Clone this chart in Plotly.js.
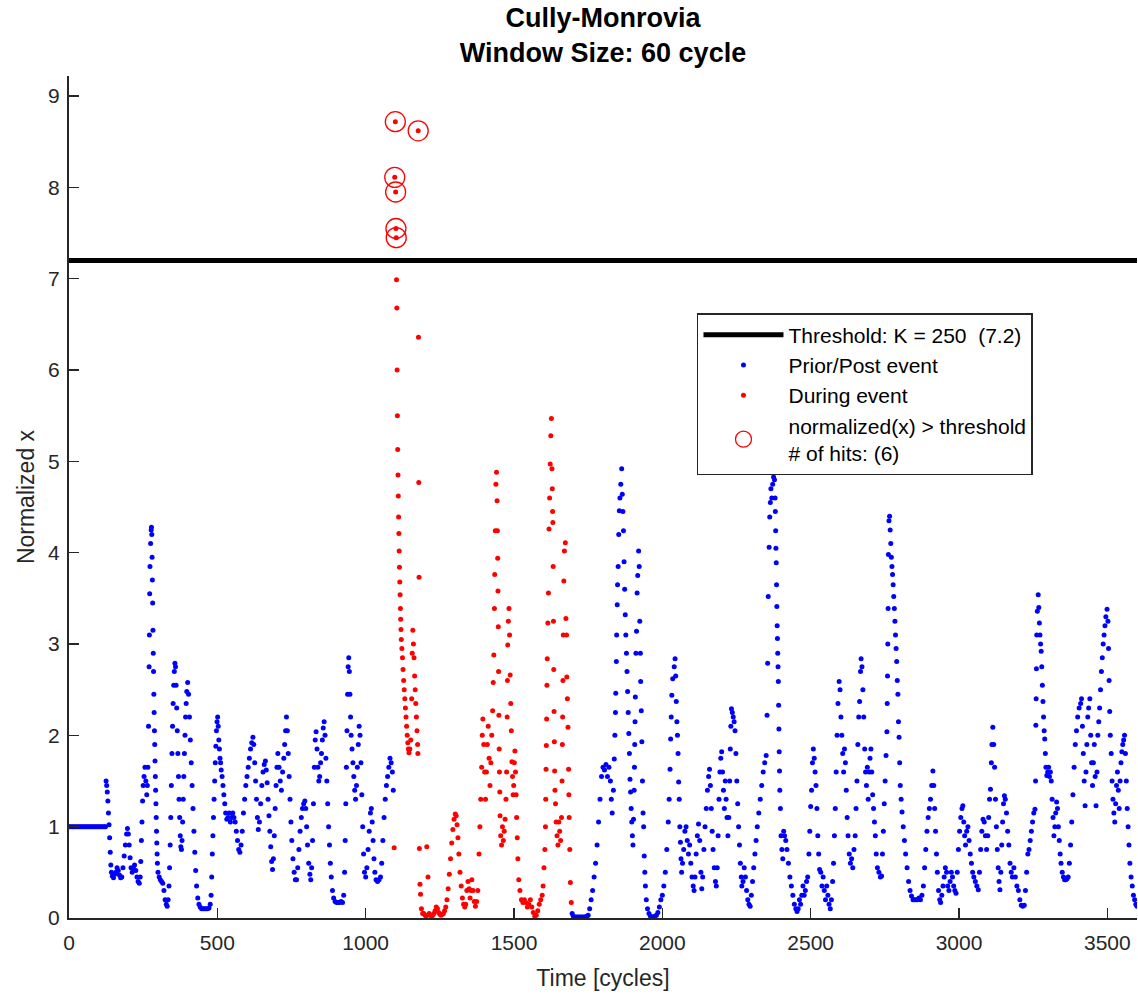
<!DOCTYPE html>
<html>
<head>
<meta charset="utf-8">
<script src="https://cdn.plot.ly/plotly-3.0.1.min.js"></script>
<style>html,body{margin:0;padding:0;background:#fff;}#chart{width:1138px;height:997px;}</style>
</head>
<body>
<div id="chart"></div>
<script>
// ---- Data (time in cycles, normalized x) ----
const titleLines = ["Cully-Monrovia", "Window Size: 60 cycle"];
const thresholdK = 250;
const thresholdValue = 7.2;
const xTickVals = [0, 500, 1000, 1500, 2000, 2500, 3000, 3500];
const yTickVals = [0, 1, 2, 3, 4, 5, 6, 7, 8, 9];

// Prior to event (blue)
const priorPts = [[0,1],[5,1],[10,1],[15,1],[20,1],[25,1],[30,1],[35,1],[40,1],[45,1],[50,1],[55,1],[60,1],[65,1],[70,1],[75,1],[80,1],[85,1],[90,1],[95,1],[100,1],[105,1],[110,1],[115,1],[120,1],[123,1],
[125,1.50],[127,1.45],[129,1.38],[131,1.28],[133,1.15],[135,1.02],[137,0.88],[139,0.72],[141,0.58],[143,0.50],[146,0.46],[150,0.44],[154,0.48],[158,0.50],[162,0.55],[166,0.52],[170,0.47],[174,0.44],[178,0.45],[182,0.55],[186,0.68],[190,0.80],[194,0.92],[197,0.98],[200,0.92],[203,0.80],[206,0.66],[209,0.55],[213,0.50],[217,0.55],[221,0.58],[225,0.52],[229,0.45],[233,0.40],[237,0.38],[240,0.45],[242,0.62],[244,0.85],[246,1.05],[248,1.28],[250,1.45],[253,1.55],[256,1.65],[259,1.50],[262,1.35],[264,1.45],[266,1.65],[268,2.10],[270,2.75],[271,3.10],[272,3.55],[273,3.85],[275,4.10],[277,4.25],[278,4.28],[279,4.20],[280,3.95],[281,3.70],[282,3.45],[283,3.15],[284,2.90],[285,2.70],[286,2.45],[287,2.25],[288,2.05],[289,1.90],[290,1.72],[291,1.55],[292,1.40],[293,1.25],[294,1.10],[295,0.95],[296,0.82],[297,0.70],[298,0.60],[300,0.50],[304,0.45],[308,0.42],[312,0.40],[316,0.38],[320,0.30],[324,0.20],[328,0.15],[331,0.13],[334,0.20],[337,0.35],[339,0.55],[341,0.80],[343,1.10],[345,1.45],[347,1.80],[349,2.10],[351,2.35],[353,2.55],[355,2.70],[357,2.79],[359,2.75],[361,2.55],[363,2.30],[365,2.05],[367,1.80],[369,1.55],[371,1.30],[373,1.10],[375,0.90],[377,0.78],[379,0.75],[381,0.85],[383,1.05],[385,1.30],[387,1.55],[389,1.80],[391,2.00],[393,2.20],[395,2.35],[397,2.48],[400,2.58],[403,2.45],[406,2.20],[409,1.95],[412,1.70],[415,1.45],[418,1.20],[421,0.95],[424,0.72],[427,0.52],[430,0.35],[434,0.22],[438,0.15],[442,0.12],[447,0.10],[452,0.10],[457,0.10],[462,0.10],[467,0.10],[472,0.11],[476,0.15],[479,0.25],[481,0.45],[483,0.70],[485,0.90],[487,1.10],[489,1.30],[491,1.50],[493,1.70],[495,1.88],[497,2.05],[499,2.15],[501,2.20],[503,2.10],[505,1.95],[507,1.85],[509,1.75],[511,1.70],[513,1.62],[516,1.55],[519,1.45],[522,1.35],[525,1.25],[528,1.15],[532,1.08],[536,1.10],[540,1.15],[544,1.05],[548,1.10],[552,1.15],[556,1.10],[560,1.05],[564,0.95],[568,0.85],[572,0.75],[576,0.72],[580,0.80],[584,0.95],[588,1.15],[592,1.30],[596,1.45],[600,1.55],[604,1.65],[608,1.75],[612,1.85],[616,1.92],[620,1.98],[623,1.90],[626,1.70],[629,1.50],[632,1.30],[635,1.10],[638,0.97],[642,1.05],[646,1.25],[650,1.45],[654,1.60],[658,1.68],[662,1.72],[665,1.62],[668,1.48],[671,1.30],[674,1.12],[677,0.95],[680,0.78],[683,0.62],[686,0.53],[689,0.65],[692,0.90],[695,1.20],[698,1.45],[701,1.65],[704,1.80],[708,1.65],[712,1.50],[716,1.40],[720,1.60],[724,1.75],[727,1.90],[730,2.05],[733,2.20],[736,2.05],[739,1.80],[742,1.55],[745,1.30],[748,1.05],[751,0.85],[755,0.65],[759,0.50],[763,0.42],[767,0.42],[771,0.55],[775,0.75],[779,0.95],[783,1.10],[787,1.20],[791,1.25],[795,1.28],[798,1.20],[801,1.00],[804,0.80],[808,0.60],[812,0.48],[815,0.42],[818,0.55],[821,0.85],[824,1.25],[827,1.65],[830,1.95],[833,2.04],[836,1.85],[839,1.65],[842,1.50],[845,1.55],[848,1.70],[851,1.80],[854,1.95],[857,2.08],[860,2.15],[863,2.00],[866,1.75],[869,1.50],[872,1.25],[875,1.00],[878,0.80],[881,0.60],[884,0.45],[888,0.30],[892,0.22],[897,0.18],[902,0.17],[907,0.17],[912,0.17],[917,0.18],[922,0.17],[926,0.25],[929,0.50],[931,0.85],[933,1.25],[935,1.65],[937,2.05],[939,2.45],[941,2.75],[943,2.85],[945,2.70],[947,2.45],[949,2.20],[951,2.00],[954,1.85],[957,1.70],[960,1.55],[963,1.40],[966,1.30],[969,1.45],[972,1.65],[975,1.90],[978,2.10],[981,2.00],[984,1.70],[987,1.35],[990,1.00],[993,0.70],[996,0.50],[1000,0.45],[1004,0.55],[1008,0.75],[1012,0.95],[1016,1.15],[1019,1.20],[1022,1.05],[1025,0.85],[1028,0.65],[1031,0.50],[1035,0.42],[1040,0.40],[1045,0.42],[1050,0.45],[1054,0.60],[1058,0.85],[1062,1.10],[1066,1.30],[1070,1.45],[1074,1.55],[1078,1.65],[1082,1.75],[1086,1.70],[1090,1.60],[1093,1.40]];

// During event (red)
const eventPts = [[1096,0.77],[1098,8.11],[1100,8.72],[1101,7.95],[1102,7.55],[1103,7.45],[1104,6.99],[1105,6.68],[1106,6.00],[1107,5.50],[1108,5.13],[1109,4.85],[1110,4.62],[1111,4.39],[1112,4.21],[1113,4.02],[1114,3.84],[1115,3.68],[1116,3.54],[1117,3.39],[1118,3.27],[1119,3.16],[1120,3.05],[1122,2.95],[1124,2.85],[1126,2.72],[1128,2.60],[1130,2.50],[1132,2.40],[1134,2.30],[1136,2.20],[1138,2.10],[1140,2.00],[1142,1.92],[1144,1.85],[1146,1.81],[1149,1.85],[1152,1.95],[1155,2.40],[1157,2.90],[1159,3.15],[1161,3.00],[1163,2.85],[1165,2.65],[1167,2.50],[1169,2.35],[1171,2.20],[1173,2.05],[1175,1.90],[1176,1.80],[1177,8.62],[1178,6.36],[1179,4.77],[1180,3.73],[1181,0.76],[1183,0.37],[1185,0.26],[1188,0.10],[1192,0.05],[1196,0.05],[1200,0.03],[1204,0.02],[1206,0.78],[1210,0.45],[1214,0.05],[1218,0.03],[1222,0.02],[1226,0.03],[1230,0.05],[1234,0.08],[1238,0.12],[1242,0.10],[1246,0.06],[1250,0.04],[1254,0.03],[1258,0.04],[1262,0.05],[1266,0.08],[1270,0.12],[1274,0.20],[1278,0.32],[1282,0.48],[1286,0.65],[1290,0.82],[1294,0.97],[1298,1.08],[1302,1.14],[1305,1.12],[1308,1.02],[1311,0.88],[1314,0.70],[1318,0.50],[1322,0.35],[1326,0.22],[1330,0.15],[1334,0.12],[1337,0.15],[1341,0.30],[1345,0.40],[1349,0.32],[1352,0.22],[1355,0.30],[1358,0.42],[1362,0.30],[1366,0.18],[1370,0.13],[1374,0.18],[1378,0.30],[1382,0.70],[1385,1.00],[1388,1.30],[1391,1.65],[1393,2.00],[1395,2.18],[1398,1.90],[1401,1.60],[1404,1.30],[1407,1.60],[1410,1.90],[1413,2.10],[1416,1.75],[1419,1.45],[1422,1.70],[1425,2.00],[1428,2.27],[1430,2.58],[1432,2.88],[1434,3.39],[1435,3.76],[1437,4.24],[1439,4.75],[1441,4.88],[1443,4.57],[1444,4.24],[1445,3.94],[1446,3.58],[1447,3.19],[1448,2.70],[1449,2.22],[1450,1.85],[1451,1.60],[1452,1.38],[1453,1.12],[1455,0.90],[1458,0.80],[1461,1.00],[1464,0.85],[1467,0.95],[1470,1.08],[1473,1.30],[1475,1.60],[1477,2.20],[1478,2.60],[1479,2.99],[1481,3.25],[1483,3.39],[1485,3.10],[1487,2.66],[1489,2.35],[1491,2.05],[1493,1.71],[1495,1.55],[1497,1.35],[1499,1.45],[1501,1.70],[1503,1.83],[1505,1.60],[1507,1.35],[1509,1.10],[1511,0.88],[1513,0.65],[1516,0.42],[1520,0.30],[1525,0.20],[1530,0.17],[1535,0.20],[1540,0.17],[1545,0.12],[1550,0.15],[1555,0.20],[1560,0.12],[1565,0.06],[1570,0.02],[1575,0.03],[1580,0.08],[1585,0.15],[1590,0.20],[1595,0.25],[1598,0.35],[1601,0.55],[1604,0.75],[1606,1.00],[1607,1.30],[1608,1.63],[1609,1.89],[1610,2.18],[1611,2.55],[1612,2.84],[1614,3.23],[1616,3.56],[1618,4.26],[1620,4.60],[1622,4.97],[1624,5.28],[1626,5.47],[1628,4.92],[1629,4.70],[1630,4.45],[1631,4.33],[1632,3.85],[1633,3.25],[1634,2.72],[1635,2.26],[1636,1.93],[1637,1.61],[1638,1.40],[1640,1.25],[1642,1.05],[1645,0.90],[1648,0.80],[1651,1.05],[1654,0.95],[1657,0.85],[1660,1.10],[1662,1.50],[1663,1.90],[1664,2.20],[1665,2.60],[1666,3.10],[1668,3.69],[1670,4.02],[1673,4.11],[1675,3.28],[1677,3.10],[1678,2.64],[1680,2.40],[1682,2.09],[1684,1.63],[1685,1.35],[1686,1.10],[1688,0.75],[1690,0.39],[1693,0.17]];

// Post event (blue)
const postPts = [[1696,0.05],[1700,0.02],[1705,0.01],[1710,0.01],[1715,0.01],[1720,0.01],[1725,0.01],[1730,0.01],[1735,0.01],[1740,0.01],[1745,0.02],[1750,0.03],[1755,0.10],[1760,0.20],[1765,0.30],[1770,0.45],[1775,0.60],[1780,0.80],[1785,1.05],[1790,1.30],[1795,1.55],[1800,1.65],[1805,1.62],[1810,1.68],[1815,1.55],[1820,1.65],[1825,1.50],[1828,1.30],[1831,1.15],[1835,1.40],[1838,1.74],[1840,2.00],[1842,2.25],[1843,2.46],[1845,2.81],[1846,3.10],[1848,3.43],[1849,3.65],[1851,3.85],[1853,4.20],[1855,4.46],[1857,4.60],[1860,4.75],[1863,4.92],[1865,4.64],[1867,4.45],[1869,4.24],[1871,3.90],[1873,3.60],[1875,3.32],[1877,3.10],[1879,2.90],[1881,2.70],[1883,2.48],[1885,2.25],[1887,2.02],[1889,1.80],[1891,1.52],[1893,1.38],[1895,1.20],[1897,1.05],[1899,0.90],[1901,0.80],[1903,1.08],[1905,1.40],[1906,1.65],[1907,1.90],[1908,2.15],[1909,2.42],[1911,2.90],[1913,3.14],[1915,3.56],[1917,3.75],[1920,4.02],[1922,3.85],[1924,3.25],[1926,2.90],[1927,2.59],[1929,2.27],[1931,1.93],[1933,1.50],[1935,1.15],[1937,1.00],[1939,0.68],[1941,0.50],[1943,0.35],[1946,0.20],[1950,0.10],[1955,0.05],[1960,0.02],[1965,0.01],[1970,0.01],[1975,0.02],[1980,0.03],[1985,0.06],[1990,0.12],[1995,0.20],[2000,0.25],[2005,0.35],[2010,0.50],[2015,0.75],[2020,1.05],[2023,1.30],[2026,1.63],[2028,1.96],[2030,2.20],[2032,2.44],[2035,2.62],[2040,2.75],[2043,2.84],[2045,2.65],[2047,2.37],[2049,2.15],[2051,2.00],[2053,1.80],[2055,1.49],[2057,1.30],[2059,1.00],[2061,0.83],[2063,0.65],[2065,0.50],[2068,0.60],[2072,0.75],[2076,0.95],[2080,1.00],[2084,0.85],[2088,0.70],[2092,0.80],[2096,0.60],[2100,0.45],[2104,0.35],[2107,0.30],[2110,0.45],[2114,0.70],[2118,0.90],[2122,1.03],[2126,0.85],[2130,0.50],[2133,0.32],[2136,0.45],[2140,0.75],[2144,1.00],[2148,1.20],[2152,1.40],[2156,1.55],[2159,1.63],[2162,1.45],[2165,1.20],[2168,0.95],[2171,0.75],[2175,0.55],[2179,0.40],[2182,0.35],[2185,0.55],[2188,0.90],[2191,1.30],[2194,1.60],[2197,1.75],[2200,1.82],[2203,1.60],[2206,1.40],[2209,1.20],[2212,1.50],[2215,1.30],[2218,1.10],[2221,0.90],[2224,1.10],[2227,1.50],[2229,1.85],[2231,2.10],[2233,2.29],[2236,2.25],[2239,2.20],[2242,2.15],[2245,2.05],[2248,1.80],[2251,1.50],[2254,1.25],[2257,1.00],[2260,0.80],[2263,0.60],[2266,0.45],[2268,0.35],[2272,0.40],[2276,0.55],[2280,0.45],[2284,0.30],[2288,0.20],[2292,0.15],[2296,0.13],[2300,0.25],[2304,0.40],[2308,0.55],[2312,0.70],[2316,0.85],[2320,1.00],[2325,1.15],[2330,1.30],[2335,1.45],[2340,1.60],[2345,1.70],[2350,1.78],[2353,2.22],[2355,2.79],[2357,3.52],[2360,4.06],[2362,4.39],[2364,4.55],[2366,4.70],[2369,4.60],[2372,4.75],[2375,4.83],[2378,4.80],[2380,4.60],[2381,4.45],[2382,4.24],[2383,4.05],[2384,3.89],[2385,3.65],[2386,3.41],[2387,3.20],[2388,3.06],[2389,2.90],[2390,2.75],[2391,2.59],[2392,2.33],[2393,2.07],[2394,1.82],[2395,1.61],[2396,1.40],[2398,1.20],[2400,0.90],[2403,0.75],[2406,0.65],[2409,0.95],[2412,0.90],[2416,0.85],[2420,0.75],[2425,0.60],[2430,0.45],[2435,0.35],[2440,0.25],[2445,0.15],[2450,0.10],[2454,0.07],[2458,0.10],[2462,0.20],[2466,0.15],[2470,0.25],[2474,0.35],[2478,0.25],[2482,0.30],[2486,0.40],[2490,0.45],[2494,0.70],[2497,0.95],[2500,1.22],[2503,1.40],[2506,1.70],[2509,1.85],[2512,1.75],[2515,1.60],[2518,1.45],[2521,1.20],[2524,0.90],[2527,0.70],[2530,0.53],[2534,0.50],[2538,0.35],[2542,0.45],[2546,0.30],[2550,0.20],[2554,0.35],[2558,0.25],[2562,0.15],[2566,0.10],[2570,0.20],[2574,0.40],[2577,0.60],[2580,0.90],[2583,1.20],[2586,1.60],[2589,2.00],[2592,2.35],[2596,2.59],[2599,2.50],[2602,2.20],[2605,2.00],[2608,1.80],[2611,1.60],[2614,1.85],[2617,1.70],[2620,1.40],[2623,1.10],[2626,0.90],[2630,0.70],[2634,0.60],[2638,0.65],[2642,0.55],[2646,0.75],[2650,0.90],[2653,1.20],[2656,1.50],[2659,1.90],[2662,2.20],[2665,2.37],[2668,2.70],[2670,2.84],[2673,2.75],[2676,2.50],[2679,2.20],[2682,1.85],[2685,1.60],[2688,1.45],[2691,1.65],[2694,1.30],[2697,1.60],[2700,1.75],[2703,1.85],[2706,1.60],[2709,1.35],[2712,1.20],[2715,1.05],[2718,0.90],[2721,0.70],[2725,0.55],[2730,0.50],[2735,0.45],[2739,0.46],[2742,0.70],[2745,0.95],[2748,1.25],[2751,1.50],[2754,1.78],[2757,2.04],[2758,2.35],[2759,2.65],[2760,3.00],[2761,3.39],[2762,3.98],[2764,4.35],[2766,4.40],[2768,4.25],[2770,4.10],[2772,3.95],[2774,3.85],[2776,3.76],[2778,3.65],[2780,3.52],[2782,3.39],[2784,3.25],[2786,3.10],[2788,2.95],[2790,2.81],[2792,2.60],[2794,2.45],[2796,2.15],[2798,1.98],[2800,1.70],[2802,1.45],[2805,1.30],[2808,1.16],[2812,1.00],[2816,0.85],[2820,0.70],[2825,0.55],[2830,0.40],[2835,0.30],[2840,0.24],[2845,0.20],[2850,0.20],[2855,0.20],[2860,0.20],[2865,0.22],[2870,0.20],[2875,0.25],[2880,0.35],[2884,0.55],[2888,0.75],[2892,0.95],[2896,1.10],[2900,1.20],[2904,1.30],[2908,1.45],[2912,1.61],[2915,1.45],[2918,1.20],[2921,0.95],[2924,0.70],[2927,0.50],[2931,0.30],[2935,0.20],[2938,0.17],[2942,0.25],[2946,0.35],[2950,0.45],[2954,0.55],[2958,0.50],[2962,0.35],[2966,0.30],[2970,0.40],[2974,0.50],[2978,0.45],[2982,0.35],[2986,0.30],[2990,0.27],[2994,0.50],[2998,0.75],[3002,0.95],[3006,1.10],[3010,1.20],[3013,1.23],[3016,1.05],[3019,0.90],[3022,0.80],[3026,0.95],[3030,1.00],[3034,0.85],[3038,0.70],[3042,0.60],[3046,0.50],[3050,0.45],[3055,0.40],[3060,0.35],[3065,0.31],[3069,0.50],[3073,0.75],[3077,0.95],[3081,1.08],[3085,1.05],[3089,0.90],[3093,0.75],[3097,0.90],[3100,1.10],[3103,1.30],[3106,1.41],[3109,1.70],[3111,1.90],[3114,2.09],[3117,1.90],[3120,1.65],[3123,1.30],[3126,1.00],[3129,0.75],[3132,0.55],[3135,0.40],[3138,0.31],[3141,0.50],[3144,0.80],[3147,1.05],[3150,1.25],[3153,1.34],[3156,1.30],[3160,1.15],[3164,0.95],[3168,0.80],[3172,0.60],[3176,0.50],[3180,0.45],[3185,0.55],[3190,0.45],[3195,0.35],[3200,0.30],[3205,0.20],[3210,0.14],[3215,0.13],[3220,0.14],[3224,0.30],[3228,0.50],[3232,0.70],[3236,0.75],[3240,0.85],[3244,0.95],[3248,1.05],[3252,1.15],[3256,1.19],[3258,1.50],[3259,2.11],[3260,2.40],[3261,2.73],[3262,3.10],[3264,3.36],[3267,3.54],[3269,3.40],[3271,3.23],[3273,3.10],[3275,3.00],[3277,2.92],[3279,2.75],[3281,2.55],[3283,2.37],[3285,2.20],[3287,2.05],[3289,1.96],[3291,1.80],[3293,1.65],[3296,1.56],[3299,1.60],[3302,1.65],[3305,1.55],[3308,1.60],[3311,1.50],[3314,1.30],[3317,1.10],[3320,0.90],[3323,1.00],[3326,1.15],[3329,1.27],[3332,1.20],[3335,1.00],[3338,0.85],[3341,0.70],[3344,0.60],[3348,0.50],[3352,0.45],[3356,0.42],[3360,0.42],[3364,0.43],[3368,0.45],[3372,0.60],[3376,0.80],[3380,1.05],[3384,1.35],[3388,1.65],[3392,1.90],[3396,2.05],[3400,2.20],[3405,2.30],[3410,2.35],[3413,2.40],[3416,2.10],[3419,1.80],[3422,1.50],[3425,1.23],[3428,1.60],[3431,1.90],[3434,2.20],[3437,2.30],[3441,2.40],[3444,2.00],[3447,1.70],[3450,1.45],[3453,1.70],[3456,1.90],[3459,1.55],[3462,1.23],[3465,1.60],[3468,2.00],[3471,2.15],[3474,2.30],[3477,2.50],[3480,2.70],[3483,2.85],[3486,3.00],[3489,3.10],[3492,3.20],[3495,3.30],[3499,3.38],[3502,3.25],[3504,2.95],[3506,2.60],[3508,2.26],[3510,2.00],[3513,1.80],[3516,1.50],[3519,1.30],[3522,1.15],[3525,1.05],[3528,1.25],[3531,1.45],[3534,1.60],[3537,1.40],[3540,1.20],[3543,1.50],[3546,1.70],[3549,1.82],[3552,1.90],[3555,1.95],[3558,2.00],[3561,1.80],[3564,1.50],[3567,1.20],[3570,1.00],[3573,0.80],[3576,0.60],[3580,0.45],[3584,0.35],[3588,0.25],[3592,0.20],[3596,0.15],[3600,0.13]];

// ---- Build traces ----
const blue = priorPts.concat(postPts);
const hits = eventPts.concat(blue).filter(p => p[1] > thresholdValue);
const FONT = "Liberation Sans, Arial, Helvetica, sans-serif";
const INK = "#262626";

const traces = [
  {
    x: [0, 3600], y: [thresholdValue, thresholdValue], mode: "lines",
    line: {color: "#000000", width: 5},
    name: "Threshold: K = " + thresholdK + "  (" + thresholdValue + ")", hoverinfo: "skip"
  },
  {
    x: blue.map(p => p[0]), y: blue.map(p => p[1]), mode: "markers",
    marker: {color: "#0000ff", size: 5},
    name: "Prior/Post event"
  },
  {
    x: eventPts.map(p => p[0]), y: eventPts.map(p => p[1]), mode: "markers",
    marker: {color: "#ff0000", size: 5},
    name: "During event"
  },
  {
    x: hits.map(p => p[0]), y: hits.map(p => p[1]), mode: "markers",
    marker: {symbol: "circle-open", color: "#ff0000", size: 20, line: {width: 1.3, color: "#ff0000"}},
    name: "normalized(x) > threshold<br># of hits: (" + hits.length + ")"
  }
];

const layout = {
  width: 1138, height: 997,
  paper_bgcolor: "#ffffff", plot_bgcolor: "#ffffff",
  margin: {l: 69, r: 1, t: 76, b: 79, pad: 0},
  font: {family: FONT, color: INK, size: 21},
  title: {
    text: titleLines.map(s => "<b>" + s + "</b>").join("<br>"),
    x: 0.5, xref: "paper", xanchor: "center",
    y: 0.973, yref: "container", yanchor: "top",
    font: {family: FONT, size: 27, color: "#000000"}
  },
  xaxis: {
    range: [0, 3600], tickvals: xTickVals, ticktext: xTickVals.map(String),
    ticks: "inside", ticklen: 10, tickwidth: 1.5, tickcolor: INK,
    showline: true, linecolor: INK, linewidth: 2,
    showgrid: false, zeroline: false,
    ticklabelstandoff: 5,
    tickfont: {family: FONT, size: 21, color: INK},
    title: {text: "Time [cycles]", font: {family: FONT, size: 23, color: INK}, standoff: 17}
  },
  yaxis: {
    range: [0, 9.22], tickvals: yTickVals, ticktext: yTickVals.map(String),
    ticks: "inside", ticklen: 10, tickwidth: 1.5, tickcolor: INK,
    showline: true, linecolor: INK, linewidth: 2,
    showgrid: false, zeroline: false,
    ticklabelstandoff: 3,
    tickfont: {family: FONT, size: 21, color: INK},
    title: {text: "Normalized x", font: {family: FONT, size: 23, color: INK}, standoff: 7}
  },
  showlegend: true,
  legend: {
    x: 0.588, y: 0.7185, xanchor: "left", yanchor: "top",
    bgcolor: "#ffffff", bordercolor: INK, borderwidth: 1.5,
    font: {family: FONT, size: 21, color: "#000000"},
    itemwidth: 80, tracegroupgap: 0
  }
};

Plotly.newPlot("chart", traces, layout, {staticPlot: true, displayModeBar: false});
</script>
</body>
</html>
